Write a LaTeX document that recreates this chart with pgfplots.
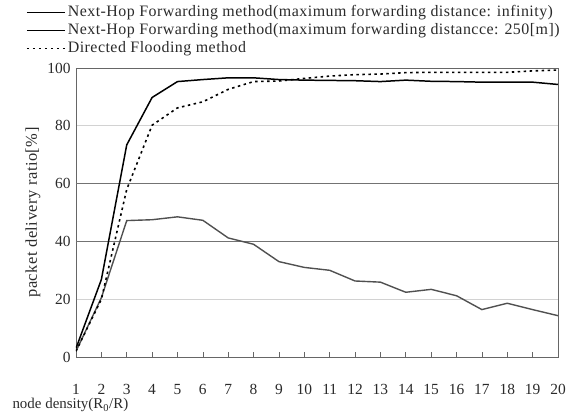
\documentclass[border=0pt]{standalone}
\usepackage{pgfplots}
\pgfplotsset{compat=1.18}
\usepackage{fontspec}
\setmainfont{Liberation Serif}
\newfontfamily\legfont[LetterSpace=3]{Liberation Serif}
\definecolor{txt}{HTML}{2A2A2A}
\definecolor{lowgray}{HTML}{505050}
\newcommand{\chartfont}{\fontsize{15.5}{17}\selectfont}
\begin{document}
\begin{tikzpicture}
\begin{axis}[
  scale only axis, width=482bp, height=289bp,
  xmin=1, xmax=20, ymin=0, ymax=100,
  xtick={1,...,20}, ytick={0,20,...,100},
  /pgf/number format/assume math mode=true,
  axis line style={draw=gray!80!black, line width=0.8pt},
  tick pos=left, tick align=inside,
  x tick style={draw=gray!80!black, line width=0.6pt}, major tick length=5bp,
  y tick style={draw=none},
  tick label style={font=\chartfont, text=txt},
  xticklabel style={yshift=-24bp},
  yticklabel style={xshift=-2bp},
  label style={text=txt},
  ymajorgrids, major grid style={draw=gray!35, line width=0.8pt},
  extra y ticks={40,60}, extra y tick labels={},
  extra y tick style={grid=major, major grid style={draw=gray!90!black, line width=0.6pt}, tick style={draw=none}},
  xlabel={node density(R\textsubscript{0}/R)},
  xlabel style={font=\fontsize{15}{17}\selectfont, at={(axis description cs:0,0)}, anchor=north west, xshift=-67bp, yshift=-38bp},
  ylabel={packet delivery ratio[\%]},
  ylabel style={font=\legfont\fontsize{16.5}{18}\selectfont, yshift=0bp},
  legend style={at={(axis description cs:0,1)}, anchor=south west, xshift=-50bp, yshift=10bp, draw=none, fill=none, font=\legfont\fontsize{16}{18}\selectfont, text=txt, row sep=-0.5bp, inner sep=0pt, nodes={text height=11bp, text depth=3.5bp}},
  legend cell align=left,
  legend image code/.code={\draw[#1] (0bp,0bp) -- (38bp,0bp);},
]
\addplot[lowgray, line width=1.4pt, forget plot] coordinates {
(1,2) (2,20.5) (3,47.2) (4,47.5) (5,48.5) (6,47.3) (7,41.2) (8,39) (9,33) (10,31) (11,30) (12,26.3) (13,25.9) (14,22.4) (15,23.4) (16,21.2) (17,16.4) (18,18.6) (19,16.4) (20,14.3)};
\addlegendimage{black, line width=0.9pt}
\addlegendentry{Next-Hop Forwarding method(maximum forwarding distance: infinity)}
\addplot[black, line width=1.5pt] coordinates {
(1,3) (2,26.8) (3,73.4) (4,89.8) (5,95.3) (6,96) (7,96.6) (8,96.6) (9,96) (10,95.8) (11,95.7) (12,95.6) (13,95.3) (14,95.8) (15,95.4) (16,95.3) (17,95.1) (18,95.1) (19,95.1) (20,94.3)};
\addlegendentry{Next-Hop Forwarding method(maximum forwarding distancce: 250[m])}
\addplot[black, line width=1.6pt, dash pattern=on 2.5pt off 3.5pt] coordinates {
(1,2) (2,20) (3,58) (4,80.2) (5,86.2) (6,88.3) (7,92.6) (8,95.3) (9,95.5) (10,96.4) (11,97.2) (12,97.7) (13,97.9) (14,98.4) (15,98.5) (16,98.5) (17,98.5) (18,98.5) (19,99) (20,99.3)};
\addlegendentry{Directed Flooding method}
\coordinate (SW) at (rel axis cs:0,0);
\coordinate (NE) at (rel axis cs:1,1);
\end{axis}
\pgfresetboundingbox
\path ([shift={(-76bp,-57bp)}]SW) rectangle ([shift={(13bp,68bp)}]NE);
\end{tikzpicture}
\end{document}
